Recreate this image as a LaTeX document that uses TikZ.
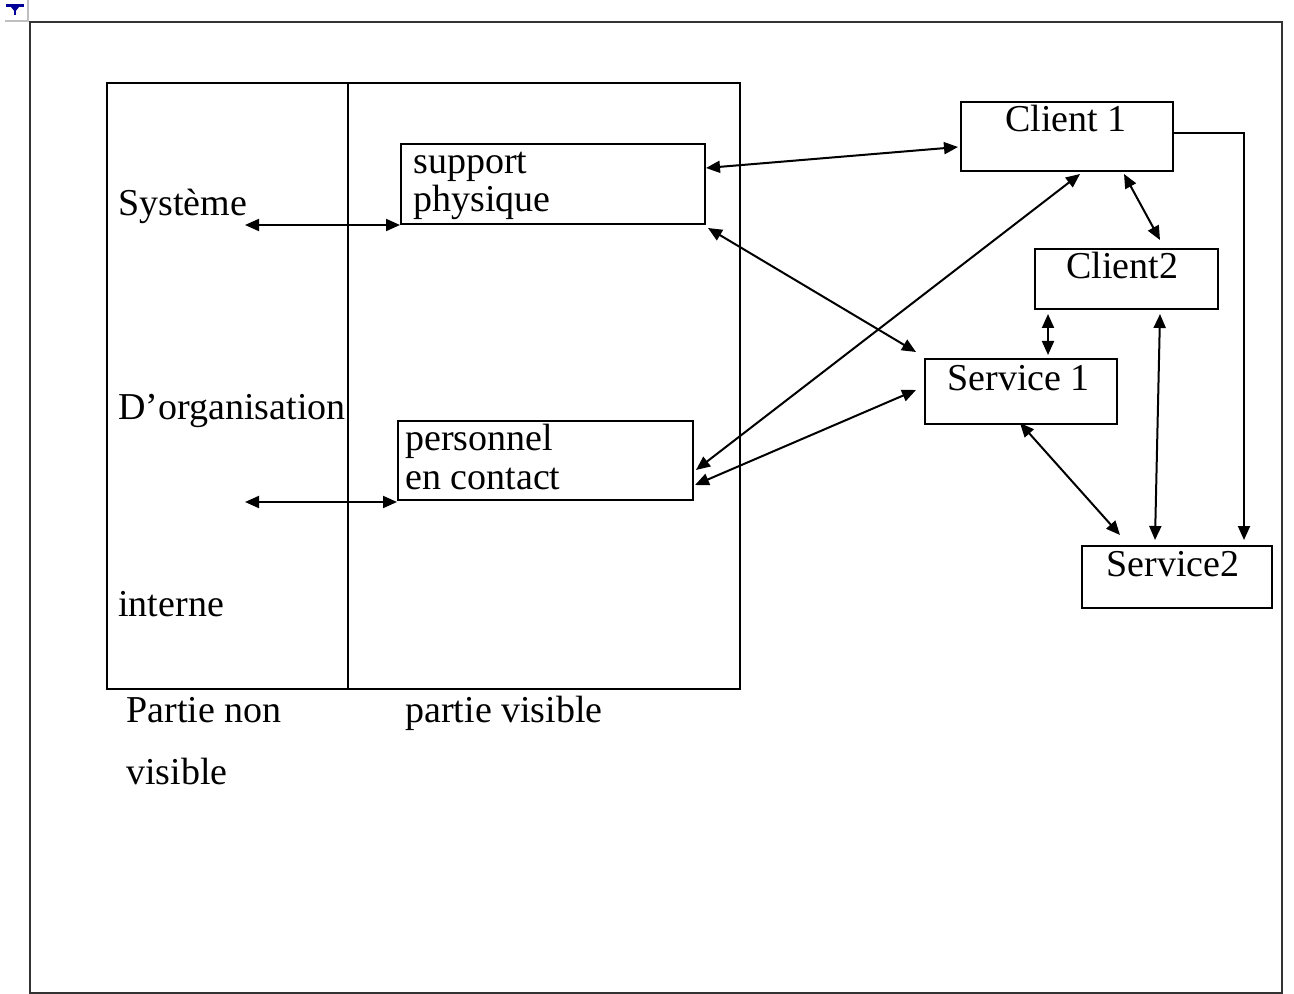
\documentclass[tikz,border=0pt]{standalone}
\usepackage{fontspec}
\setmainfont{Liberation Serif}
\usetikzlibrary{arrows.meta,calc}
\begin{document}
\begin{tikzpicture}[x=0.5pt,y=-0.5pt,
  every node/.style={font=\fontsize{19}{19}\selectfont},
  box/.style={draw, line width=1pt, inner sep=0pt, anchor=north west},
  txt/.style={inner sep=0pt, anchor=base west},
  link/.style={line width=1pt, {Triangle[length=7pt,width=6pt]}-{Triangle[length=7pt,width=6pt]}},
  oneway/.style={line width=1pt, -{Triangle[length=7pt,width=6pt]}}]
\useasboundingbox (0,0) rectangle (1294,994);

% handle in the top corner
\draw[gray!50, line width=0.6pt] (5,21) -- (28,21) -- (28,0);
\fill[blue!60!black] (6,4) rectangle (24,7);
\fill[blue!60!black] (11,7) -- (19,7) -- (15,12) -- cycle;
\draw[blue!60!black, line width=0.8pt] (15,7) -- (15,15);

% outer frame
\draw[line width=1.3pt, black!80] (30,22) rectangle (1282,993);

% organisation block and its divider
\draw[line width=1pt] (107,83) rectangle (740,689);
\draw[line width=1pt] (348,83) -- (348,689);

% boxes
\node[box, minimum width=152pt, minimum height=40pt] (sup) at (400,143) {};
\node[box, minimum width=147.5pt, minimum height=39.5pt] (per) at (397,420) {};
\node[box, minimum width=106pt, minimum height=34.5pt] (c1) at (960,101) {};
\node[box, minimum width=91.5pt, minimum height=30pt] (c2) at (1034,248) {};
\node[box, minimum width=96pt, minimum height=32.5pt] (s1) at (924,358) {};
\node[box, minimum width=95pt, minimum height=31pt] (s2) at (1081,545) {};

% texts
\node[txt] (sys) at (118,216) {Système};
\node[txt] (org) at (118,419) {D’organisation};
\node[txt] (int) at (118,616) {interne};
\node[txt] (pnv1) at (126,722) {Partie non};
\node[txt] (pnv2) at (126,784) {visible};
\node[txt] (pv) at (405,722) {partie visible};
\node[txt] (supa) at (413,174) {support};
\node[txt] (supb) at (413,212) {physique};
\node[txt] (pera) at (405,450) {personnel};
\node[txt] (perb) at (405,489) {en contact};
\node[txt] (c1t) at (1005,132) {Client 1};
\node[txt] (c2t) at (1066,279) {Client2};
\node[txt] (s1t) at (947,390) {Service 1};
\node[txt] (s2t) at (1106,576) {Service2};

% loose ends of the left arrows
\coordinate (sysend) at (245,225);
\coordinate (orgend) at (245,502);

% connectors
\draw[link] (sysend) -- (sysend -| sup.west);
\draw[link] (orgend) -- (orgend -| per.west);
\draw[link] ($(sup.north east)+(0,25)$) -- ($(c1.north west)+(-2,46)$);
\draw[link] ($(sup.south east)+(2,3)$) -- ($(s1.north west)+(-8,-6)$);
\draw[link] ($(c1.south west)+(120,2)$) -- ($(per.north east)+(2,50)$);
\draw[link] ($(per.north east)+(1,65)$) -- ($(s1.north west)+(-8,32)$);
\draw[link] ($(c1.south west)+(164,2)$) -- ($(c2.north west)+(126,-8)$);
\draw[link] ($(c2.south west)+(14,4)$) -- ($(s1.north west)+(124,-3)$);
\draw[link] ($(c2.south west)+(126,4)$) -- ($(s2.north west)+(74,-5)$);
\draw[link] ($(s1.south west)+(96,-2)$) -- ($(s2.north west)+(39,-10)$);
\draw[oneway] ($(c1.north east)+(0,32)$) -| ($(s2.north west)+(163,-5)$);
\end{tikzpicture}
\end{document}
